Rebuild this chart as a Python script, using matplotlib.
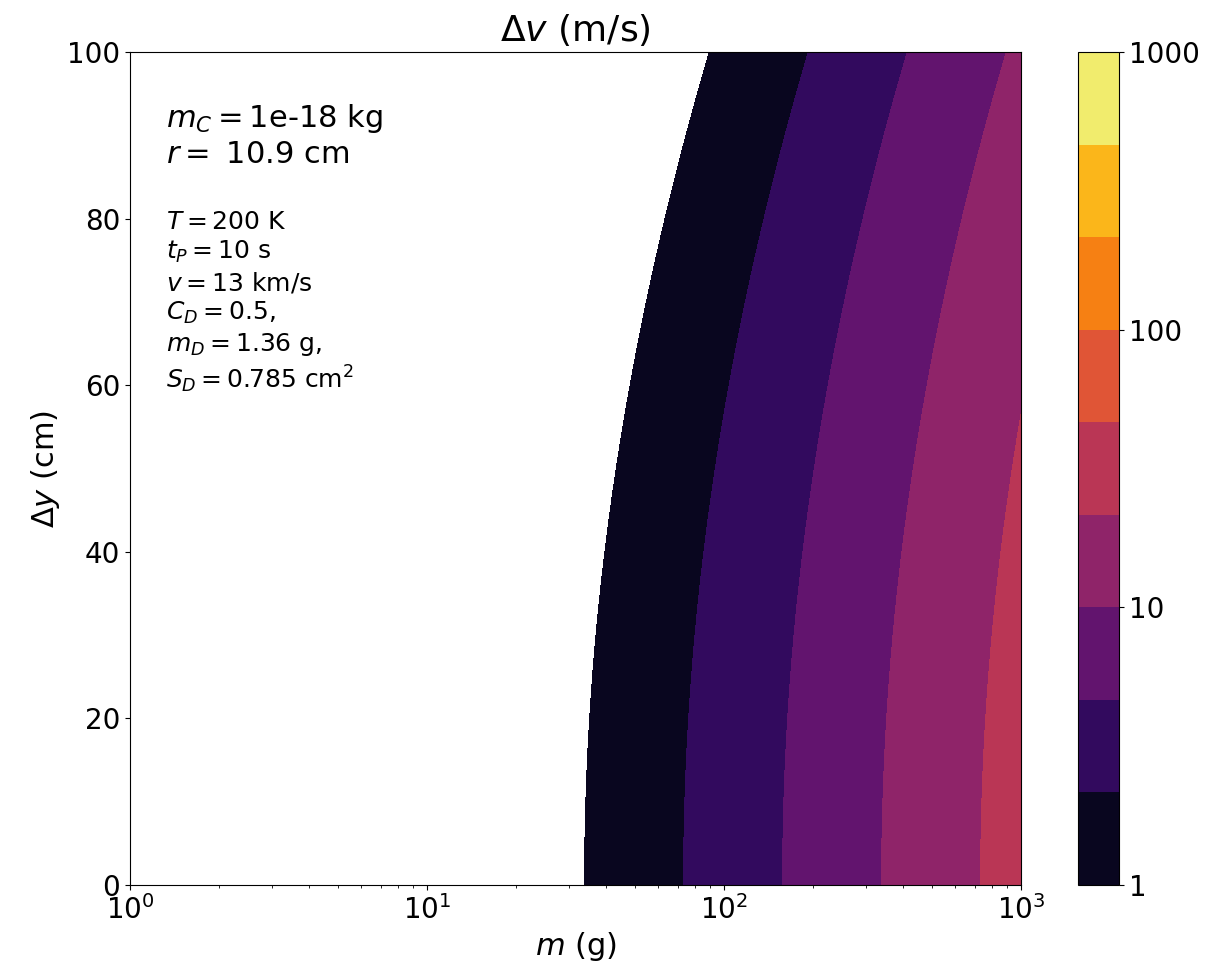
import matplotlib
matplotlib.use("Agg")
import matplotlib.pyplot as plt
import numpy as np
from matplotlib.colors import LogNorm


# offset across the beam (cm) and the mass (g) that receives a kick of 1 m/s there
dy_cm = [0, 10, 20, 30, 40, 50, 60, 70, 80, 90, 100]
m_unit_g = [33.8, 34.3, 35.2, 37.2, 40.0, 43.5, 48.1, 54.2, 63.0, 76.0, 88.5]

levels = np.logspace(0, 3, 10)  # 1 ... 1000 m/s, three bands per decade
cbar_ticks = [1, 10, 100, 1000]
cbar_labels = ["1", "10", "100", "1000"]

params_main = "$m_C = $1e-18 kg\n$r =$ 10.9 cm"
params_detail = (
    "$T = 200$ K\n"
    "$t_P = 10$ s\n"
    "$v = 13$ km/s\n"
    "$C_D = 0.5$,\n"
    "$m_D = 1.36$ g,\n"
    "$S_D = 0.785$ cm$^2$"
)


def main() -> None:
    m = np.logspace(0, 3, 600)
    dy = np.linspace(0, 100, 300)
    M, DY = np.meshgrid(m, dy)
    # smooth the threshold: log(m_unit) is close to quadratic in the offset
    coef = np.polyfit(np.square(dy_cm), np.log10(m_unit_g), 2)
    m_thr = 10 ** np.polyval(coef, DY ** 2)
    dv = M / m_thr  # dv scales linearly with mass

    fig = plt.figure(figsize=(12.18, 9.75), dpi=100)
    ax = fig.add_axes([0.1067, 0.0923, 0.7316, 0.8544])
    cax = fig.add_axes([0.885, 0.0923, 0.0337, 0.8544])

    cs = ax.contourf(M, DY, dv, levels=levels, norm=LogNorm(1, 1000), cmap="inferno")
    ax.set_xscale("log")
    ax.set_xlim(1, 1000)
    ax.set_ylim(0, 100)
    ax.set_yticks([0, 20, 40, 60, 80, 100])
    ax.tick_params(labelsize=20)
    ax.set_xlabel("$m$ (g)", fontsize=22)
    ax.set_ylabel(r"$\Delta y$ (cm)", fontsize=22)
    ax.set_title(r"$\Delta v$ (m/s)", fontsize=26, pad=8)

    ax.text(0.04, 0.94, params_main, transform=ax.transAxes, fontsize=22,
            va="top", ha="left")
    ax.text(0.04, 0.81, params_detail, transform=ax.transAxes, fontsize=18,
            va="top", ha="left", linespacing=1.24)

    cbar = fig.colorbar(cs, cax=cax)
    cbar.set_ticks(cbar_ticks)
    cbar.set_ticklabels(cbar_labels)
    cbar.ax.minorticks_off()
    cbar.ax.tick_params(labelsize=20)

    fig.savefig("out.png", dpi=100)
    plt.close(fig)


if __name__ == "__main__":
    main()
